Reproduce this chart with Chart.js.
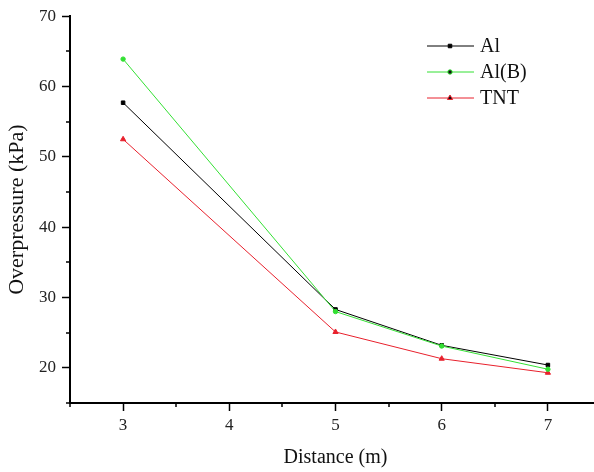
<!DOCTYPE html>
<html>
<head>
<meta charset="utf-8">
<script src="https://cdn.jsdelivr.net/npm/chart.js@4"></script>
<style>
  html, body { margin: 0; padding: 0; background: #fff; overflow: hidden; }
  #wrap { width: 606px; height: 472px; }
</style>
</head>
<body>
<div id="wrap"><canvas id="myChart" width="606" height="472"></canvas></div>
<script>
// data
const distances = [3, 5, 6, 7];
const alValues = [57.7, 28.3, 23.2, 20.4];
const alBValues = [63.9, 28.0, 23.1, 19.8];
const tntValues = [52.5, 25.1, 21.3, 19.3];

const xTicks = [3, 4, 5, 6, 7];
const xMinorTicks = [2.5, 3.5, 4.5, 5.5, 6.5, 7.5];
const yTicks = [20, 30, 40, 50, 60, 70];
const yMinorTicks = [15, 25, 35, 45, 55, 65];

const serif = "'Liberation Serif', 'Times New Roman', serif";

function toPoints(values) {
  return values.map((v, i) => ({x: distances[i], y: v}));
}

// small minor ticks, placed with the scales
const minorTicks = {
  id: 'minorTicks',
  afterDraw(chart) {
    const ctx = chart.ctx;
    const xs = chart.scales.x, ys = chart.scales.y;
    const area = chart.chartArea;
    ctx.save();
    ctx.strokeStyle = '#000';
    ctx.lineWidth = 1.5;
    ctx.beginPath();
    xMinorTicks.forEach(v => {
      const px = Math.round(xs.getPixelForValue(v));
      ctx.moveTo(px, area.bottom);
      ctx.lineTo(px, area.bottom + 4);
    });
    yMinorTicks.forEach(v => {
      const py = Math.round(ys.getPixelForValue(v));
      ctx.moveTo(area.left, py);
      ctx.lineTo(area.left - 4, py);
    });
    ctx.stroke();
    ctx.restore();
  }
};

// legend box inside the plot, top right
const innerLegend = {
  id: 'innerLegend',
  afterDraw(chart) {
    const ctx = chart.ctx;
    const rowsY = [46, 72, 98];
    ctx.save();
    chart.data.datasets.forEach((ds, i) => {
      const y = rowsY[i];
      ctx.strokeStyle = ds.borderColor;
      ctx.lineWidth = 1;
      ctx.beginPath();
      ctx.moveTo(427, y);
      ctx.lineTo(474, y);
      ctx.stroke();
      Chart.helpers.drawPoint(ctx, {
        pointStyle: ds.pointStyle,
        radius: ds.pointRadius,
        borderWidth: 1
      }, 450, y);
      ctx.fillStyle = '#111';
      ctx.font = '20px ' + serif;
      ctx.textBaseline = 'middle';
      ctx.textAlign = 'left';
      ctx.fillText(ds.label, 480, y + 1);
    });
    ctx.restore();
  }
};

new Chart("myChart", {
  type: "line",
  data: {
    datasets: [{
      label: 'Al',
      data: toPoints(alValues),
      borderColor: '#000000',
      backgroundColor: '#000000',
      pointStyle: 'rect',
      pointRadius: 2.5,
      borderWidth: 1,
      order: 1
    }, {
      label: 'Al(B)',
      data: toPoints(alBValues),
      borderColor: '#33e033',
      backgroundColor: '#33e033',
      pointStyle: 'circle',
      pointRadius: 2.2,
      borderWidth: 1,
      order: 0
    }, {
      label: 'TNT',
      data: toPoints(tntValues),
      borderColor: '#e8202c',
      backgroundColor: '#e8202c',
      pointStyle: 'triangle',
      pointRadius: 3,
      borderWidth: 1,
      order: 2
    }]
  },
  options: {
    responsive: false,
    animation: false,
    layout: {padding: {top: 15, right: 0, bottom: 0, left: 0}},
    plugins: {
      legend: {display: false},
      tooltip: {enabled: false}
    },
    scales: {
      x: {
        type: 'linear',
        min: 2.5,
        max: 7.5,
        afterBuildTicks: axis => { axis.ticks = xTicks.map(v => ({value: v})); },
        afterFit: axis => { axis.height = 69; },
        border: {display: true, color: '#000', width: 2},
        grid: {drawOnChartArea: false, drawTicks: true, tickLength: 8, tickColor: '#000', tickWidth: 1.5},
        ticks: {color: '#222', padding: 4, font: {family: serif, size: 17}},
        title: {display: true, text: 'Distance (m)', color: '#111', font: {family: serif, size: 20}, padding: {top: 0, bottom: 2}}
      },
      y: {
        min: 15,
        max: 70,
        afterBuildTicks: axis => { axis.ticks = yTicks.map(v => ({value: v})); },
        afterFit: axis => { axis.width = 70; },
        border: {display: true, color: '#000', width: 2},
        grid: {drawOnChartArea: false, drawTicks: true, tickLength: 8, tickColor: '#000', tickWidth: 1.5},
        ticks: {color: '#222', padding: 6, font: {family: serif, size: 17}},
        title: {display: true, text: 'Overpressure (kPa)', color: '#111', font: {family: serif, size: 22}, padding: {top: 4, bottom: 0}}
      }
    }
  },
  plugins: [minorTicks, innerLegend]
});
</script>
</body>
</html>
